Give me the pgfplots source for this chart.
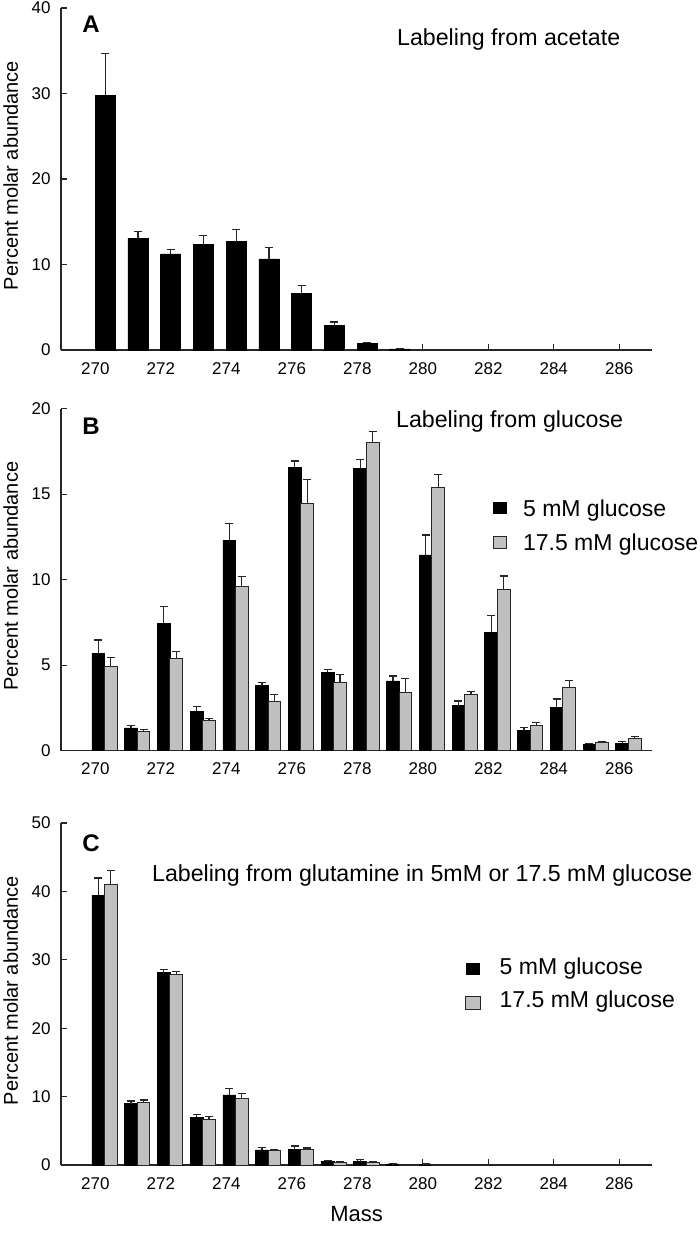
\documentclass[border=0pt]{standalone}
\usepackage{fontspec}
\setmainfont{Liberation Sans}
\usepackage{pgfplots}
\pgfplotsset{compat=1.18}
\definecolor{barg}{HTML}{C0C0C0}
\definecolor{edge}{HTML}{262626}

\pgfplotsset{
  panel/.style={
    scale only axis, width=295.5pt, height=171pt, anchor=south west,
    xmin=268.95, xmax=287, ymin=0,
    axis x line*=bottom, axis y line*=left,
    axis line style={line width=0.65pt, edge, -},
    tick align=inside, major tick length=2.8pt, tick style={line width=0.6pt, edge},
    xtick={270,272,...,286},
    /pgf/number format/assume math mode=true,
    tick label style={font=\fontsize{8.5}{10}\selectfont},
    xticklabel style={yshift=-2.6pt},
    yticklabel style={xshift=-1.7pt},
    ylabel={Percent molar abundance},
    ylabel style={font=\fontsize{10}{12}\selectfont, at={(axis description cs:-0.085,0.51)}, anchor=center},
    clip=false,
  },
  errs/.style={
    error bars/y dir=plus, error bars/y explicit,
    error bars/error bar style={line width=0.6pt, edge},
    error bars/error mark options={rotate=90, mark size=2pt, line width=0.6pt, edge}},
  bk/.style={ybar, bar width=0.39, fill=black, draw=black, line width=0.4pt, errs},
  gr/.style={ybar, bar width=0.39, fill=barg, draw=edge, line width=0.5pt, errs},
}

\begin{document}
\begin{tikzpicture}
\path[use as bounding box] (0,0) rectangle (350pt,-616.5pt);

% ---------------- A: acetate ----------------
\begin{axis}[panel, at={(30.5pt,-175pt)}, ymax=40, ytick={0,10,...,40}]
  \addplot[bk, bar width=0.61] coordinates {
    (270.30,29.8) +- (0,4.9)
    (271.30,13.07) +- (0,0.83)
    (272.30,11.24) +- (0,0.5)
    (273.30,12.37) +- (0,1.03)
    (274.30,12.72) +- (0,1.38)
    (275.30,10.65) +- (0,1.33)
    (276.30,6.63) +- (0,0.94)
    (277.30,2.85) +- (0,0.43)
    (278.30,0.78) +- (0,0.12)
    (279.30,0.12) +- (0,0.04)
  };
\end{axis}

% ---------------- B: glucose ----------------
\begin{axis}[panel, at={(30.5pt,-375.35pt)}, ymax=20, ytick={0,5,...,20}]
  \addplot[bk] coordinates {
    (270.09,5.68) +- (0,0.80)
    (271.09,1.33) +- (0,0.15)
    (272.09,7.43) +- (0,1.0)
    (273.09,2.30) +- (0,0.30)
    (274.09,12.31) +- (0,1.0)
    (275.09,3.80) +- (0,0.2)
    (276.09,16.59) +- (0,0.35)
    (277.09,4.59) +- (0,0.15)
    (278.09,16.49) +- (0,0.54)
    (279.09,4.08) +- (0,0.29)
    (280.09,11.45) +- (0,1.17)
    (281.09,2.63) +- (0,0.28)
    (282.09,6.93) +- (0,0.97)
    (283.09,1.19) +- (0,0.18)
    (284.09,2.52) +- (0,0.50)
    (285.09,0.35) +- (0,0.05)
    (286.09,0.43) +- (0,0.12)
  };
  \addplot[gr] coordinates {
    (270.47,4.90) +- (0,0.54)
    (271.47,1.11) +- (0,0.14)
    (272.47,5.42) +- (0,0.39)
    (273.47,1.74) +- (0,0.15)
    (274.47,9.62) +- (0,0.58)
    (275.47,2.87) +- (0,0.43)
    (276.47,14.46) +- (0,1.38)
    (277.47,3.98) +- (0,0.47)
    (278.47,18.01) +- (0,0.66)
    (279.47,3.41) +- (0,0.79)
    (280.47,15.40) +- (0,0.74)
    (281.47,3.30) +- (0,0.17)
    (282.47,9.44) +- (0,0.78)
    (283.47,1.50) +- (0,0.14)
    (284.47,3.71) +- (0,0.41)
    (285.47,0.46) +- (0,0.05)
    (286.47,0.72) +- (0,0.13)
  };
\end{axis}

% ---------------- C: glutamine ----------------
\begin{axis}[panel, at={(30.5pt,-582.5pt)}, ymax=50, ytick={0,10,...,50}]
  \addplot[bk] coordinates {
    (270.09,39.46) +- (0,2.49)
    (271.09,8.98) +- (0,0.39)
    (272.09,28.1) +- (0,0.53)
    (273.09,6.98) +- (0,0.43)
    (274.09,10.24) +- (0,0.93)
    (275.09,2.2) +- (0,0.34)
    (276.09,2.29) +- (0,0.49)
    (277.09,0.55) +- (0,0.1)
    (278.09,0.5) +- (0,0.25)
    (279.09,0.15) +- (0,0.05)
    (280.09,0.1) +- (0,0.05)
  };
  \addplot[gr] coordinates {
    (270.47,41.02) +- (0,2.05)
    (271.47,9.07) +- (0,0.44)
    (272.47,27.8) +- (0,0.5)
    (273.47,6.68) +- (0,0.39)
    (274.47,9.71) +- (0,0.73)
    (275.47,2.05) +- (0,0.24)
    (276.47,2.2) +- (0,0.29)
    (277.47,0.42) +- (0,0.08)
    (278.47,0.38) +- (0,0.08)
    (279.47,0.1) +- (0,0.03)
    (280.47,0.08) +- (0,0.03)
  };
\end{axis}

% panel letters and titles
\node[anchor=base west, inner sep=0pt, font=\fontsize{12}{14}\selectfont\bfseries] at (41pt,-16.15pt) {A};
\node[anchor=base west, inner sep=0pt, font=\fontsize{12}{14}\selectfont\bfseries] at (41pt,-217.15pt) {B};
\node[anchor=base west, inner sep=0pt, font=\fontsize{12}{14}\selectfont\bfseries] at (41pt,-425.5pt) {C};

\node[anchor=base west, inner sep=0pt, font=\fontsize{11.6}{14}\selectfont] at (198.35pt,-22.85pt) {Labeling from acetate};
\node[anchor=base west, inner sep=0pt, font=\fontsize{11.6}{14}\selectfont] at (197.85pt,-213.85pt) {Labeling from glucose};
\node[anchor=base west, inner sep=0pt, font=\fontsize{11.6}{14}\selectfont] at (75.85pt,-440.85pt) {Labeling from glutamine in 5mM or 17.5 mM glucose};

% legend B
\fill[black] (246.65pt,-250.85pt) rectangle (253.35pt,-257pt);
\draw[edge, fill=barg, line width=0.5pt] (246.65pt,-268.35pt) rectangle (253.35pt,-274.15pt);
\node[anchor=base west, inner sep=0pt, font=\fontsize{11.5}{14}\selectfont] at (261.35pt,-258.35pt) {5 mM glucose};
\node[anchor=base west, inner sep=0pt, font=\fontsize{11.5}{14}\selectfont] at (261.35pt,-275.35pt) {17.5 mM glucose};

% legend C
\fill[black] (232.85pt,-481.65pt) rectangle (240pt,-487.65pt);
\draw[edge, fill=barg, line width=0.5pt] (232.85pt,-498.35pt) rectangle (240pt,-504.5pt);
\node[anchor=base west, inner sep=0pt, font=\fontsize{11.5}{14}\selectfont] at (249.65pt,-487pt) {5 mM glucose};
\node[anchor=base west, inner sep=0pt, font=\fontsize{11.5}{14}\selectfont] at (249.65pt,-503.65pt) {17.5 mM glucose};

% x axis title
\node[anchor=base west, inner sep=0pt, font=\fontsize{11}{13}\selectfont] at (165pt,-610.85pt) {Mass};
\end{tikzpicture}
\end{document}
